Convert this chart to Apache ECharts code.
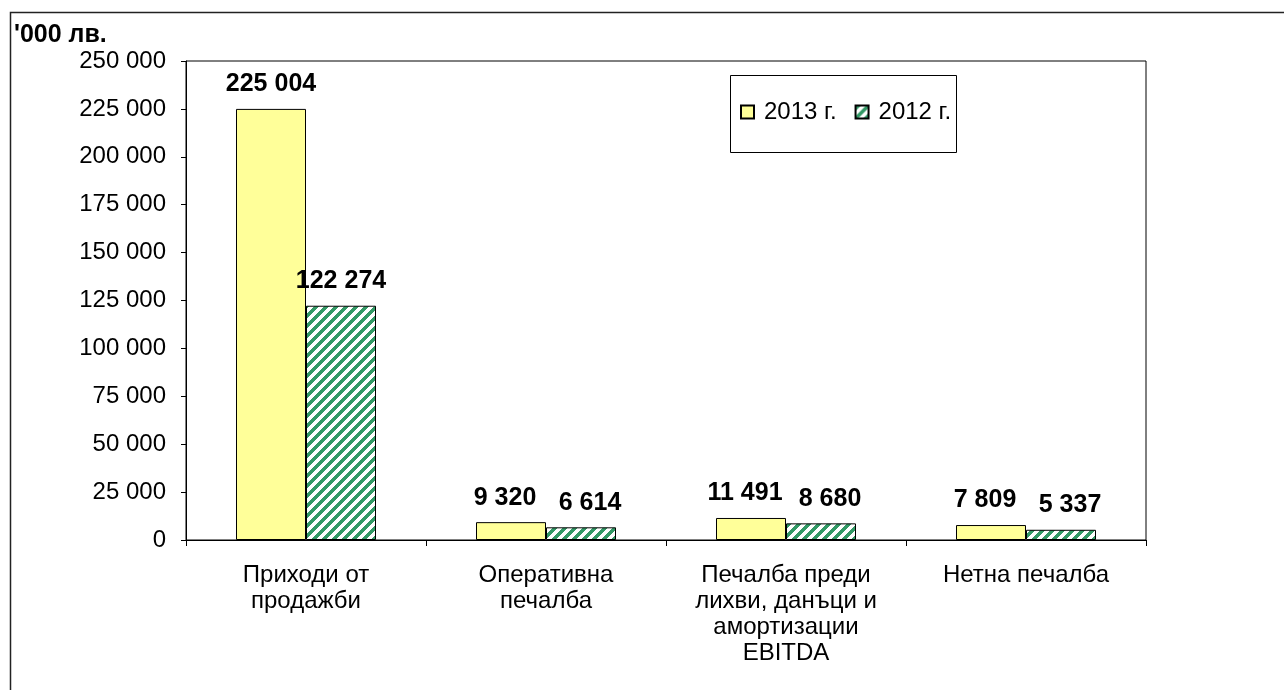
<!DOCTYPE html>
<html>
<head>
<meta charset="utf-8">
<script src="https://cdn.jsdelivr.net/npm/echarts@6/dist/echarts.min.js"></script>
<style>
html,body{margin:0;padding:0;background:#fff;}
#chart{width:1284px;height:690px;}
</style>
</head>
<body>
<div id="chart"></div>
<script>
const categories = ['Приходи от\nпродажби', 'Оперативна\nпечалба', 'Печалба преди\nлихви, данъци и\nамортизации\nEBITDA', 'Нетна печалба'];
const seriesNames = ['2013 г.', '2012 г.'];
const values2013 = [225004, 9320, 11491, 7809];
const values2012 = [122274, 6614, 8680, 5337];
const yTicks = [0, 25000, 50000, 75000, 100000, 125000, 150000, 175000, 200000, 225000, 250000];

function fmt(v) {
  return String(v).replace(/\B(?=(\d{3})+(?!\d))/g, ' ');
}

function hatch() {
  const s = 10;
  const c = document.createElement('canvas');
  c.width = s; c.height = s;
  const ctx = c.getContext('2d');
  const img = ctx.createImageData(s, s);
  for (let y = 0; y < s; y++) {
    for (let x = 0; x < s; x++) {
      const i = (y * s + x) * 4;
      const g = ((x + y) % s) < 5;
      img.data[i] = g ? 0x33 : 255;
      img.data[i + 1] = g ? 0x99 : 255;
      img.data[i + 2] = g ? 0x66 : 255;
      img.data[i + 3] = 255;
    }
  }
  ctx.putImageData(img, 0, 0);
  return c;
}

const FONT = 'Liberation Sans, Arial, sans-serif';
const chart = echarts.init(document.getElementById('chart'));
const labelCfg = {
  show: true, position: 'top', distance: 12,
  fontFamily: FONT, fontSize: 25, fontWeight: 'bold', color: '#000',
  formatter: p => fmt(p.value)
};
// small labels are nudged apart horizontally, as in the reference
const nudge = params => {
  if (params.dataIndex === 0) return {};
  return { dx: params.seriesIndex === 0 ? -6 : 9 };
};
chart.setOption({
  animation: false,
  backgroundColor: '#fff',
  graphic: [
    { type: 'rect', shape: { x: 10.5, y: 12.5, width: 1400, height: 800 }, style: { fill: null, stroke: '#222', lineWidth: 1.5 }, z: 100 },
    { type: 'rect', shape: { x: 730.5, y: 75.5, width: 226, height: 77 }, style: { fill: '#fff', stroke: '#000', lineWidth: 1 }, z: 1 },
    { type: 'text', left: 14, top: 23, style: { text: "'000 лв.", font: 'bold 25px ' + FONT, fill: '#000' } }
  ],
  grid: { left: 186, top: 61, width: 960, height: 479, show: true, borderColor: '#000', borderWidth: 1, backgroundColor: '#fff' },
  legend: {
    left: 740, top: 100,
    padding: 0,
    itemWidth: 13, itemHeight: 13, itemGap: 18,
    icon: 'rect',
    z: 5,
    textStyle: { fontFamily: FONT, fontSize: 24, color: '#000', padding: [0, 0, 0, 5] },
    data: seriesNames
  },
  xAxis: {
    type: 'category', data: categories,
    axisLine: { lineStyle: { color: '#000', width: 1 } },
    axisTick: { show: true, length: 6, lineStyle: { color: '#000' } },
    axisLabel: { fontFamily: FONT, fontSize: 24, color: '#000', lineHeight: 26, margin: 22, interval: 0 }
  },
  yAxis: {
    type: 'value', min: 0, max: 250000, interval: 25000,
    splitLine: { show: false },
    axisLine: { show: true, lineStyle: { color: '#000', width: 1 } },
    axisTick: { show: true, length: 5, lineStyle: { color: '#000' } },
    axisLabel: { fontFamily: FONT, fontSize: 24, color: '#000', margin: 20,
      formatter: v => yTicks.includes(v) ? fmt(v) : '' }
  },
  series: [
    { name: seriesNames[0], type: 'bar', data: values2013, barWidth: 70, barGap: '0%',
      itemStyle: { color: '#FFFF99', borderColor: '#000', borderWidth: 1 }, label: labelCfg, labelLayout: nudge },
    { name: seriesNames[1], type: 'bar', data: values2012, barWidth: 70,
      itemStyle: { color: { image: hatch(), repeat: 'repeat' }, borderColor: '#000', borderWidth: 1 }, label: labelCfg, labelLayout: nudge }
  ]
});
</script>
</body>
</html>
